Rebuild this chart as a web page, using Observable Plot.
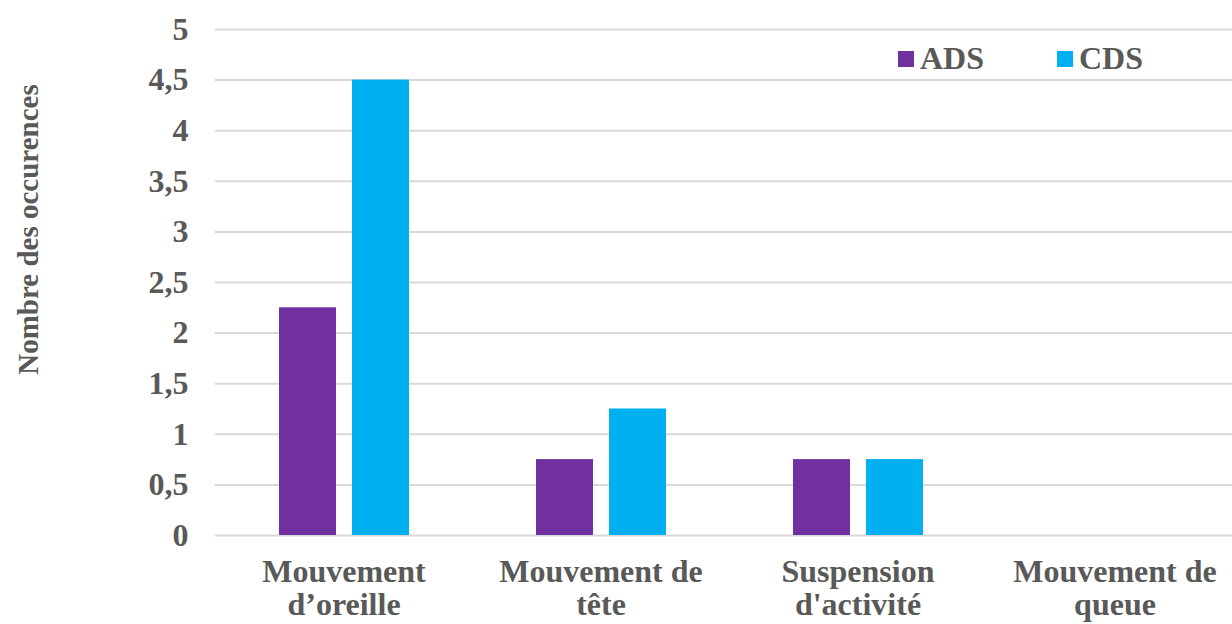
<!DOCTYPE html>
<html>
<head>
<meta charset="utf-8">
<script src="https://cdn.jsdelivr.net/npm/d3@7"></script>
<script src="https://cdn.jsdelivr.net/npm/@observablehq/plot@0.6"></script>
<style>
  body { margin: 0; background: #fff; overflow: hidden; }
  #wrap { position: relative; width: 1232px; height: 624px; overflow: hidden; font-family: "Liberation Serif", "Times New Roman", serif; }
  #wrap svg { max-width: none !important; }
  .lg { position: absolute; top: 40px; display: flex; align-items: center; font-weight: bold; font-size: 32px; color: #595959; }
  .sw { width: 16px; height: 16px; margin-right: 6px; }
</style>
</head>
<body>
<div id="wrap"></div>
<script>
const categories = ["Mouvement\nd’oreille", "Mouvement de\ntête", "Suspension\nd'activité", "Mouvement de\nqueue"];
const series = ["ADS", "CDS"];
const adsValues = [2.25, 0.75, 0.75, 0];
const cdsValues = [4.5, 1.25, 0.75, 0];
const colors = ["#7030A0", "#00B0F0"];
const yTicks = [0, 0.5, 1, 1.5, 2, 2.5, 3, 3.5, 4, 4.5, 5];
const yLabel = "Nombre des occurences";

const data = [];
categories.forEach((c, i) => {
  data.push({cat: c, s: "ADS", v: adsValues[i]});
  data.push({cat: c, s: "CDS", v: cdsValues[i]});
});

const font = "'Liberation Serif', 'Times New Roman', serif";
const textColor = "#595959";

const chart = Plot.plot({
  width: 1243,
  height: 624,
  marginTop: 29,
  marginBottom: 89,
  marginLeft: 215,
  marginRight: 0,
  style: {fontFamily: font, background: "transparent", maxWidth: "none"},
  fx: {domain: categories, paddingInner: 0, paddingOuter: 0, label: null},
  x: {domain: series, paddingInner: 0.22, paddingOuter: 0.87, axis: null},
  y: {domain: [0, 5], label: null},
  color: {domain: series, range: colors},
  marks: [
    Plot.ruleY(yTicks, {stroke: "#d9d9d9", strokeWidth: 2}),
    Plot.barY(data, {fx: "cat", x: "s", y: "v", fill: "s"}),
    Plot.axisY({ticks: yTicks, tickFormat: d => String(d).replace(".", ","), tickSize: 0, tickPadding: 27,
      fontSize: 32, fontWeight: "bold", fill: textColor, label: null}),
    Plot.axisFx({anchor: "bottom", tickSize: 0, tickPadding: 23, fontSize: 32, fontWeight: "bold",
      fill: textColor, label: null, lineHeight: 1.04}),
    Plot.text([yLabel], {fx: [categories[0]], frameAnchor: "left", text: d => d, rotate: -90, textAnchor: "middle",
      dx: -187, dy: -53, fontSize: 29, fontWeight: "bold", fill: textColor})
  ]
});

const wrap = document.getElementById("wrap");
wrap.appendChild(chart);

const legendPos = [898, 1057];
series.forEach((s, i) => {
  const d = document.createElement("div");
  d.className = "lg";
  d.style.left = legendPos[i] + "px";
  d.innerHTML = `<div class="sw" style="background:${colors[i]}"></div><span>${s}</span>`;
  wrap.appendChild(d);
});
</script>
</body>
</html>
